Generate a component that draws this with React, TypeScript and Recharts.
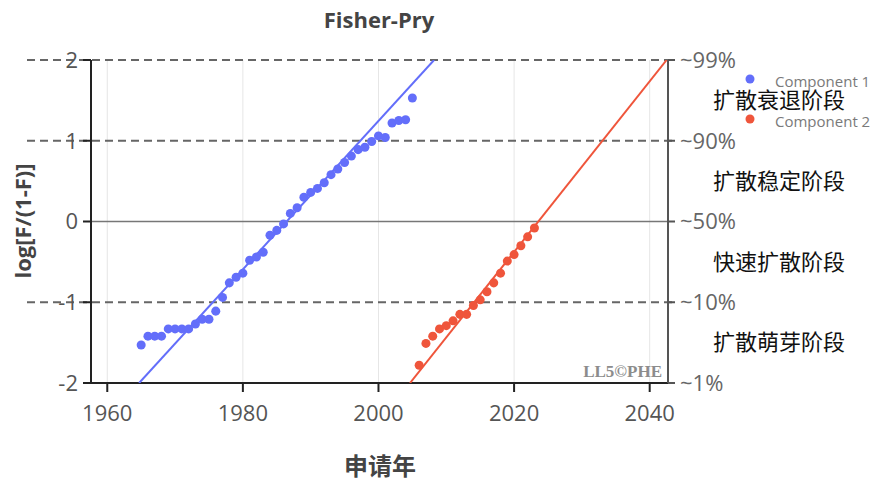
import {
  ComposedChart,
  Scatter,
  XAxis,
  YAxis,
  CartesianGrid,
  ReferenceLine,
} from 'recharts';

// 年份 / log[F/(1-F)] 值
const YEARS_1 = [
  1965, 1966, 1967, 1968, 1969, 1970, 1971, 1972, 1973, 1974, 1975, 1976, 1977, 1978,
  1979, 1980, 1981, 1982, 1983, 1984, 1985, 1986, 1987, 1988, 1989, 1990, 1991, 1992,
  1993, 1994, 1995, 1996, 1997, 1998, 1999, 2000, 2001, 2002, 2003, 2004, 2005,
];
const VALUES_1 = [
  -1.53, -1.42, -1.42, -1.42, -1.33, -1.33, -1.33, -1.33, -1.27, -1.21, -1.21, -1.11, -0.94, -0.76,
  -0.69, -0.64, -0.48, -0.44, -0.38, -0.17, -0.11, -0.03, 0.1, 0.17, 0.3, 0.36, 0.41, 0.48,
  0.58, 0.65, 0.73, 0.81, 0.89, 0.92, 0.99, 1.06, 1.04, 1.22, 1.25, 1.26, 1.53,
];
const YEARS_2 = [
  2006, 2007, 2008, 2009, 2010, 2011, 2012, 2013, 2014, 2015, 2016, 2017, 2018, 2019,
  2020, 2021, 2022, 2023,
];
const VALUES_2 = [
  -1.78, -1.51, -1.42, -1.33, -1.29, -1.23, -1.15, -1.15, -1.04, -0.97, -0.87, -0.76, -0.64, -0.49,
  -0.41, -0.3, -0.19, -0.08,
];

// 拟合直线端点
const FIT_YEARS_1 = [1964.7, 2008.2];
const FIT_YEARS_2 = [2004.65, 2042.5];
const FIT_VALUES = [-2, 2];

const SERIES_NAMES = ['Component 1', 'Component 2'];
const X_TICKS = [1960, 1980, 2000, 2020, 2040];
const Y_TICKS = [-2, -1, 0, 1, 2];
const PCT_LABELS = ['~1%', '~10%', '~50%', '~90%', '~99%'];
const DASHED_LEVELS = [2, 1, -1];
const STAGE_LEVELS = [-1.5, -0.5, 0.5, 1.5];
const STAGE_LABELS = ['扩散萌芽阶段', '快速扩散阶段', '扩散稳定阶段', '扩散衰退阶段'];

const BLUE = '#636efa';
const RED = '#ef553b';
const FONT = '"Open Sans", "Noto Sans CJK SC", sans-serif';
const CJK = '"Noto Sans CJK SC", sans-serif';

const toPoints = (xs: number[], ys: number[]) => xs.map((x, i) => ({ year: x, v: ys[i] }));

const points1 = toPoints(YEARS_1, VALUES_1);
const points2 = toPoints(YEARS_2, VALUES_2);
const fit1 = toPoints(FIT_YEARS_1, FIT_VALUES);
const fit2 = toPoints(FIT_YEARS_2, FIT_VALUES);

const NoDot = () => <g />;

export default function App() {
  return (
    <div style={{ position: 'absolute', left: 0, top: 0, background: '#fff' }}>
      <ComposedChart
        width={881}
        height={485}
        margin={{ top: 60, right: 153, bottom: 72, left: 31 }}
      >
        <CartesianGrid horizontal={false} stroke="#e6e6e6" strokeWidth={1} />
        <XAxis
          type="number"
          dataKey="year"
          domain={[1957.6, 2042.7]}
          ticks={X_TICKS}
          allowDataOverflow
          height={30}
          axisLine={{ stroke: '#222', strokeWidth: 2 }}
          tickLine={{ stroke: '#222', strokeWidth: 2 }}
          tickSize={9}
          tickMargin={13}
          tick={{ fill: '#555', fontSize: 22, fontFamily: FONT }}
        />
        <YAxis
          yAxisId="left"
          type="number"
          dataKey="v"
          domain={[-2, 2]}
          ticks={Y_TICKS}
          allowDataOverflow
          width={60}
          axisLine={{ stroke: '#222', strokeWidth: 2 }}
          tickLine={{ stroke: '#222', strokeWidth: 2 }}
          tickSize={8}
          tickMargin={5}
          tick={{ fill: '#555', fontSize: 22, fontFamily: FONT }}
        />
        <YAxis
          yAxisId="right"
          orientation="right"
          type="number"
          domain={[-2, 2]}
          ticks={Y_TICKS}
          allowDataOverflow
          width={60}
          axisLine={{ stroke: '#555', strokeWidth: 2 }}
          tickLine={{ stroke: '#555', strokeWidth: 2 }}
          tickSize={7}
          tickMargin={5}
          tickFormatter={(v: number) => PCT_LABELS[Y_TICKS.indexOf(v)]}
          tick={{ fill: '#666', fontSize: 22, fontFamily: FONT }}
        />

        {DASHED_LEVELS.map((lv) => (
          <ReferenceLine
            key={lv}
            yAxisId="left"
            y={lv}
            ifOverflow="visible"
            shape={(p: any) => (
              <line
                x1={27}
                x2={676}
                y1={p.y1}
                y2={p.y2}
                stroke="#666"
                strokeWidth={2}
                strokeDasharray="8 5"
              />
            )}
          />
        ))}
        <ReferenceLine yAxisId="left" y={0} stroke="#777" strokeWidth={1.5} />

        {STAGE_LEVELS.map((lv, i) => (
          <ReferenceLine
            key={`s${lv}`}
            yAxisId="right"
            y={lv}
            stroke="none"
            label={{
              value: STAGE_LABELS[i],
              position: 'right',
              offset: 45,
              fill: '#111',
              fontSize: 22,
              fontFamily: CJK,
            }}
          />
        ))}

        <Scatter
          yAxisId="left"
          data={fit1}
          line={{ stroke: BLUE, strokeWidth: 2 }}
          shape={NoDot}
          isAnimationActive={false}
          legendType="none"
        />
        <Scatter
          yAxisId="left"
          data={fit2}
          line={{ stroke: RED, strokeWidth: 2 }}
          shape={NoDot}
          isAnimationActive={false}
          legendType="none"
        />
        <Scatter
          yAxisId="left"
          name={SERIES_NAMES[0]}
          data={points1}
          fill={BLUE}
          isAnimationActive={false}
        />
        <Scatter
          yAxisId="left"
          name={SERIES_NAMES[1]}
          data={points2}
          fill={RED}
          isAnimationActive={false}
        />

        {/* 标题、坐标轴名称、图例、水印 */}
        <text x={379} y={19} textAnchor="middle" dominantBaseline="central" fontSize={22} fontWeight="bold" fill="#444" fontFamily={FONT}>
          Fisher-Pry
        </text>
        <text
          x={22}
          y={221}
          transform="rotate(-90 22 221)"
          textAnchor="middle"
          dominantBaseline="central"
          fontSize={22}
          fontWeight="bold"
          fill="#444"
          fontFamily={FONT}
        >
          log[F/(1-F)]
        </text>
        <text x={380} y={464} textAnchor="middle" dominantBaseline="central" fontSize={24} fontWeight="bold" fill="#444" fontFamily={CJK}>
          申请年
        </text>
        <text x={662} y={377} textAnchor="end" fontSize={17} fontWeight="bold" fill="#8c8c8c" fontFamily='"Liberation Serif", serif'>
          LL5©PHE
        </text>
        {SERIES_NAMES.map((name, i) => (
          <g key={name}>
            <circle cx={750} cy={79 + i * 40} r={4.5} fill={i === 0 ? BLUE : RED} />
            <text x={775} y={81 + i * 40} dominantBaseline="central" fontSize={15} fill="#7a7a7a" fontFamily={FONT}>
              {name}
            </text>
          </g>
        ))}
      </ComposedChart>
    </div>
  );
}
